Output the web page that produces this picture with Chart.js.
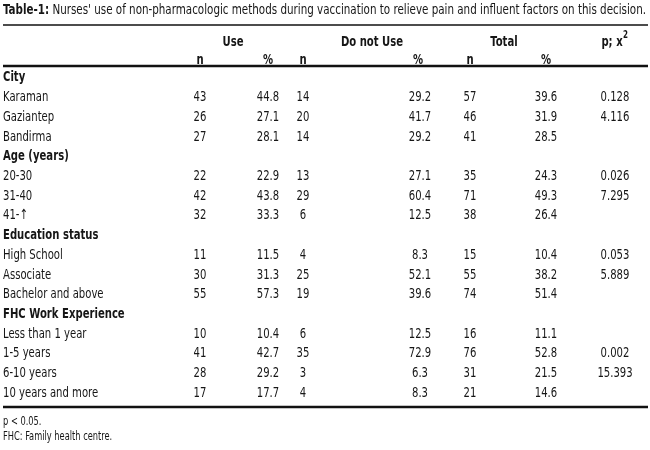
<!DOCTYPE html>
<html>
<head>
<meta charset="utf-8">
<script src="https://cdn.jsdelivr.net/npm/chart.js@4/dist/chart.umd.min.js"></script>
<style>
  html, body { margin: 0; padding: 0; background: #fff; }
  #wrap { width: 650px; height: 450px; position: relative; }
</style>
</head>
<body>
<div id="wrap"><canvas id="table"></canvas></div>
<script>
// rows of the table (group headings included)
const rowLabels = ["City", "Karaman", "Gaziantep", "Bandirma",
    "Age (years)", "20-30", "31-40", "41-\u2191",
    "Education status", "High School", "Associate", "Bachelor and above",
    "FHC Work Experience", "Less than 1 year", "1-5 years", "6-10 years", "10 years and more"];
const groupRows = ["City", "Age (years)", "Education status", "FHC Work Experience"];

// column values, null on the group heading rows
const useN   = [null, 43, 26, 27, null, 22, 42, 32, null, 11, 30, 55, null, 10, 41, 28, 17];
const usePct = [null, 44.8, 27.1, 28.1, null, 22.9, 43.8, 33.3, null, 11.5, 31.3, 57.3, null, 10.4, 42.7, 29.2, 17.7];
const notN   = [null, 14, 20, 14, null, 13, 29, 6, null, 4, 25, 19, null, 6, 35, 3, 4];
const notPct = [null, 29.2, 41.7, 29.2, null, 27.1, 60.4, 12.5, null, 8.3, 52.1, 39.6, null, 12.5, 72.9, 6.3, 8.3];
const totN   = [null, 57, 46, 41, null, 35, 71, 38, null, 15, 55, 74, null, 16, 76, 31, 21];
const totPct = [null, 39.6, 31.9, 28.5, null, 24.3, 49.3, 26.4, null, 10.4, 38.2, 51.4, null, 11.1, 52.8, 21.5, 14.6];
const pChi   = [null, 0.128, 4.116, null, null, 0.026, 7.295, null, null, 0.053, 5.889, null, null, null, 0.002, 15.393, null];

const titleBold = "Table-1:";
const titleText = " Nurses' use of non-pharmacologic methods during vaccination to relieve pain and influent factors on this decision.";
const groupHeads = ["Use", "Do not Use", "Total", "p; x"];
const subHeads = ["n", "%", "n", "%", "n", "%"];
const footnotes = ["p < 0.05.", "FHC: Family health centre."];

// layout
const FONT = "'Liberation Sans Narrow', 'DejaVu Sans Condensed', 'Arial Narrow', sans-serif";
const INK = "#161616";
const SQUEEZE = 0.8;
const colX = [200, 268, 303, 420, 470, 546, 615];
const groupX = [233, 372, 504, 612];
const decimals = [0, 1, 0, 1, 0, 1, 3];

const columns = [useN, usePct, notN, notPct, totN, totPct, pChi];

const datasets = columns.map(function (vals, c) {
    let pts = [];
    vals.forEach(function (v, i) {
        if (v !== null) pts.push({ x: colX[c], y: rowLabels[i], v: v.toFixed(decimals[c]) });
    });
    return { data: pts, pointRadius: 0, pointHoverRadius: 0 };
});

// condensed text: the original uses a narrow face
function drawText(ctx, text, x, y, sx) {
    ctx.save();
    ctx.translate(x, y);
    ctx.scale(sx, 1);
    ctx.fillText(text, 0, 0);
    ctx.restore();
}

const tablePlugin = {
    id: "tableText",
    afterDatasetsDraw(chart) {
        const ctx = chart.ctx;
        const yScale = chart.scales.y;
        ctx.save();
        ctx.fillStyle = INK;
        ctx.textBaseline = "middle";

        // title, squeezed to the width of the table
        ctx.font = "bold 14px " + FONT;
        let wb = ctx.measureText(titleBold).width;
        ctx.font = "14px " + FONT;
        let wt = ctx.measureText(titleText).width;
        let sx = 643 / (wb + wt);
        ctx.textAlign = "left";
        ctx.font = "bold 14px " + FONT;
        drawText(ctx, titleBold, 3, 10, sx);
        ctx.font = "14px " + FONT;
        drawText(ctx, titleText, 3 + wb * sx, 10, sx);

        // rules
        ctx.strokeStyle = "#111";
        ctx.lineWidth = 1.6;
        ctx.beginPath(); ctx.moveTo(3, 25); ctx.lineTo(648, 25); ctx.stroke();
        ctx.lineWidth = 2.6;
        ctx.beginPath(); ctx.moveTo(3, 66); ctx.lineTo(648, 66); ctx.stroke();
        ctx.beginPath(); ctx.moveTo(3, 407); ctx.lineTo(648, 407); ctx.stroke();

        // header rows
        ctx.textAlign = "center";
        ctx.font = "bold 14px " + FONT;
        groupHeads.forEach(function (h, i) { drawText(ctx, h, groupX[i], 42, SQUEEZE); });
        ctx.textAlign = "left";
        ctx.font = "bold 10px " + FONT;
        drawText(ctx, "2", groupX[3] + 11, 35, SQUEEZE);
        ctx.textAlign = "center";
        ctx.font = "bold 14px " + FONT;
        subHeads.forEach(function (h, i) { drawText(ctx, h, colX[i] + (i === 3 ? -2 : 0), 60, SQUEEZE); });

        // row labels
        ctx.textAlign = "left";
        rowLabels.forEach(function (lab, i) {
            const bold = groupRows.includes(lab);
            ctx.font = (bold ? "bold 14px " : "14px ") + FONT;
            drawText(ctx, lab, 3, yScale.getPixelForValue(i), SQUEEZE);
        });

        // cells
        ctx.textAlign = "center";
        ctx.font = "14px " + FONT;
        chart.data.datasets.forEach(function (ds, d) {
            chart.getDatasetMeta(d).data.forEach(function (pt, i) {
                drawText(ctx, ds.data[i].v, pt.x, pt.y, SQUEEZE);
            });
        });

        // footnotes
        ctx.textAlign = "left";
        ctx.font = "11.5px " + FONT;
        footnotes.forEach(function (f, i) { drawText(ctx, f, 3, 422 + i * 15.5, SQUEEZE); });
        ctx.restore();
    }
};

new Chart(document.getElementById("table"), {
    type: "scatter",
    data: { datasets: datasets },
    options: {
        responsive: true,
        maintainAspectRatio: false,
        animation: false,
        events: [],
        layout: { padding: { top: 68, bottom: 47, left: 0, right: 0 } },
        plugins: { legend: { display: false }, tooltip: { enabled: false } },
        scales: {
            x: { type: "linear", min: 0, max: 650, display: false },
            y: { type: "category", labels: rowLabels, offset: true, display: false }
        }
    },
    plugins: [tablePlugin]
});
</script>
</body>
</html>
